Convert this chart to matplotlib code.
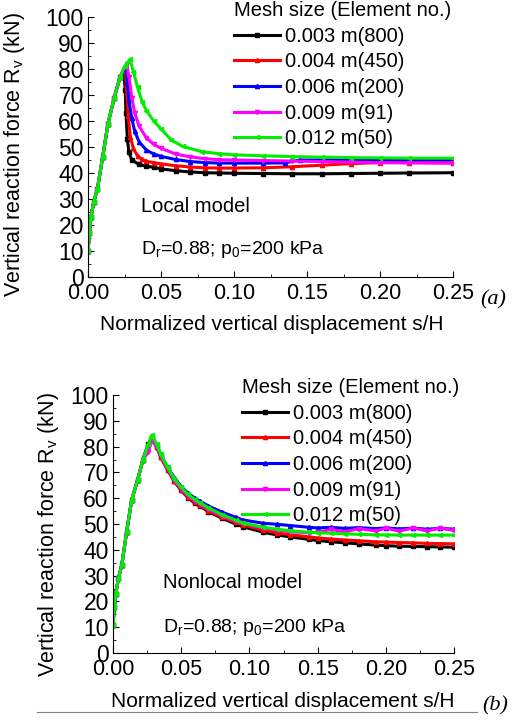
import matplotlib.pyplot as plt
from matplotlib.ticker import MultipleLocator, FormatStrFormatter

plt.rcParams['font.family'] = ['Liberation Sans', 'DejaVu Sans']

labels = ['0.003 m(800)', '0.004 m(450)', '0.006 m(200)', '0.009 m(91)', '0.012 m(50)']
colors = ['black', 'red', 'blue', 'magenta', '#00ee00']
markers = ['s', '^', '^', 'v', '<']

# (a) local model
rise_x = [0, 0.001, 0.002, 0.004, 0.0065, 0.010, 0.0137, 0.018, 0.022]
rise_y = [10, 17, 23, 29, 34, 46, 59, 69, 77]

loc_black_x = rise_x + [0.0245, 0.0255, 0.026, 0.027, 0.028, 0.030, 0.035, 0.040, 0.045, 0.05, 0.06, 0.07,
                        0.08, 0.09, 0.10, 0.12, 0.14, 0.16, 0.18, 0.20, 0.22, 0.25]
loc_black_y = rise_y + [79, 72, 63, 53, 48, 45, 43.3, 42.6, 42.2, 41.6, 40.9, 40.4,
                        40.1, 40, 39.9, 39.8, 39.7, 39.7, 39.8, 39.9, 40, 40.1]

loc_red_x = rise_x + [0.0255, 0.0265, 0.0275, 0.029, 0.031, 0.034, 0.037, 0.040, 0.045, 0.05, 0.06, 0.07,
                      0.08, 0.09, 0.10, 0.12, 0.14, 0.16, 0.18, 0.20, 0.22, 0.25]
loc_red_y = rise_y + [80.5, 71, 62, 54, 49.5, 46.5, 45.2, 44.5, 44, 43.5, 42.8, 42.3,
                      42, 41.9, 41.9, 42.0, 42.4, 43.0, 43.6, 44, 44, 43.9]

loc_blue_x = rise_x + [0.026, 0.027, 0.028, 0.030, 0.032, 0.035, 0.040, 0.045, 0.05, 0.06, 0.07,
                       0.08, 0.09, 0.10, 0.12, 0.135, 0.145, 0.16, 0.18, 0.20, 0.22, 0.25]
loc_blue_y = rise_y + [81, 75, 68, 61, 56, 52, 48.8, 47.3, 46.4, 45.2, 44.4,
                       44, 43.8, 43.8, 43.8, 43.9, 45, 45, 45, 45, 45, 45]

loc_mag_x = rise_x + [0.0265, 0.028, 0.030, 0.032, 0.035, 0.040, 0.045, 0.05, 0.06, 0.07, 0.08,
                      0.09, 0.10, 0.12, 0.14, 0.16, 0.18, 0.20, 0.22, 0.25]
loc_mag_y = rise_y + [82, 77, 69, 63, 58, 53.5, 51, 49.5, 47.3, 46.2, 45.5,
                      45.1, 45, 44.8, 44.6, 44.4, 44.2, 44, 43.9, 43.8]

loc_green_x = rise_x + [0.025, 0.0288, 0.031, 0.034, 0.037, 0.040, 0.045, 0.05, 0.057, 0.065, 0.078,
                        0.09, 0.10, 0.12, 0.14, 0.16, 0.18, 0.20, 0.22, 0.25]
loc_green_y = rise_y + [81, 83.7, 79, 73, 67.5, 64, 60, 57, 52.7, 50.2, 48.2,
                        47.4, 47, 46.6, 46.3, 46.1, 45.9, 45.8, 45.7, 45.7]

# (b) nonlocal model
nl_rise_x = [0, 0.001, 0.002, 0.004, 0.0064, 0.010, 0.0137, 0.018, 0.022, 0.026]
nl_rise_y = [11, 18, 23, 29, 34, 47, 59.3, 67, 75, 81]
nl_x = nl_rise_x + [0.0284, 0.032, 0.035, 0.040, 0.045, 0.05, 0.055, 0.06, 0.064, 0.07, 0.08, 0.09,
                    0.095, 0.11, 0.12, 0.13, 0.144, 0.15, 0.16, 0.17, 0.18, 0.193, 0.20, 0.21,
                    0.22, 0.23, 0.24, 0.25]
nl_black_y = nl_rise_y + [83.5, 80, 76, 71, 66.5, 63, 60.2, 58, 56.8, 54.8, 52.2, 50,
                          49, 46.8, 45.8, 45, 44, 43.6, 43.1, 42.7, 42.3, 41.8, 41.6, 41.4,
                          41.3, 41.2, 41.1, 41]
nl_red_y = nl_rise_y + [83.3, 79.8, 76, 71, 66.5, 63.2, 60.5, 58.5, 57.2, 55.2, 52.6, 50.6,
                        49.7, 47.6, 46.6, 45.8, 45, 44.6, 44.2, 43.8, 43.5, 43.1, 43, 42.8,
                        42.7, 42.5, 42.4, 42.3]
nl_blue_y = nl_rise_y + [83.8, 80.5, 77, 72, 68, 64.5, 62, 60, 58.8, 57, 54.6, 52.6,
                         51.6, 50.3, 49.9, 49.4, 48.7, 48.5, 48.7, 48.3, 48.6, 48.2, 48.5, 48.1,
                         48.4, 48, 48.3, 48]
nl_mag_y = nl_rise_y[:-1] + [78, 82.5, 79.8, 76.5, 71.5, 67, 63.5, 61, 59, 57.8, 55.8, 53.2, 51.2,
                             50.2, 48.5, 47.6, 47, 46.6, 46.8, 47.9, 46.9, 48.2, 47.3, 48.4, 47.2,
                             48.5, 47.3, 48.4, 47.5]
nl_green_y = nl_rise_y + [84.5, 81, 77, 72, 67.5, 64.2, 61.5, 59.5, 58.2, 56.3, 53.6, 51.5,
                          50.4, 48.8, 48, 47.4, 46.8, 46.6, 46.4, 46.2, 46, 45.8, 45.8, 45.7,
                          45.7, 45.7, 45.7, 45.7]

local_series = [(loc_black_x, loc_black_y), (loc_red_x, loc_red_y), (loc_blue_x, loc_blue_y),
                (loc_mag_x, loc_mag_y), (loc_green_x, loc_green_y)]
nonlocal_series = [(nl_x, nl_black_y), (nl_x, nl_red_y), (nl_x, nl_blue_y),
                   (nl_x, nl_mag_y), (nl_x, nl_green_y)]

fig = plt.figure(figsize=(5.14, 7.22), dpi=100)
W, H = 514, 722


def fx(px):
    return px / W


def fy(py):
    return 1 - py / H


def make_axes(left, top, right, bottom):
    return fig.add_axes([fx(left), fy(bottom), (right - left) / W, (bottom - top) / H])


def style(ax, series, model, leg_pos, xlab_pos, ylab_pos, txt_x, txt_y1, txt_y2):
    for (x, y), c, m, lab in zip(series, colors, markers, labels):
        ax.plot(x, y, color=c, lw=2.2, marker=m, ms=3, label=lab)
    ax.set_xlim(0, 0.25)
    ax.set_ylim(0, 100)
    ax.xaxis.set_major_locator(MultipleLocator(0.05))
    ax.xaxis.set_minor_locator(MultipleLocator(0.025))
    ax.xaxis.set_major_formatter(FormatStrFormatter('%.2f'))
    ax.yaxis.set_major_locator(MultipleLocator(10))
    ax.yaxis.set_minor_locator(MultipleLocator(5))
    ax.spines['top'].set_visible(False)
    ax.spines['right'].set_visible(False)
    ax.tick_params(which='both', direction='in')
    ax.tick_params(axis='x', labelsize=15.5, pad=4)
    ax.tick_params(axis='y', labelsize=16.5, pad=3)
    ax.tick_params(which='major', length=4)
    ax.tick_params(which='minor', length=2.5)
    ax.set_xlabel('Normalized vertical displacement s/H', fontsize=15)
    ax.xaxis.set_label_coords(fx(xlab_pos[0]), fy(xlab_pos[1]), transform=fig.transFigure)
    ax.set_ylabel('Vertical reaction force R$_\\mathregular{v}$ (kN)', fontsize=15.5)
    ax.yaxis.set_label_coords(fx(ylab_pos[0]), fy(ylab_pos[1]), transform=fig.transFigure)
    leg = ax.legend(loc='upper left', bbox_to_anchor=(fx(leg_pos[0]), fy(leg_pos[1])),
                    bbox_transform=fig.transFigure, frameon=False,
                    title='Mesh size (Element no.)', fontsize=14.5, title_fontsize=14.5,
                    handlelength=2.3, handletextpad=0.25, labelspacing=0.33,
                    borderaxespad=0, borderpad=0)
    leg._legend_box.align = 'left'
    ax.text(txt_x, txt_y1, model, fontsize=14.5)
    ax.text(txt_x, txt_y2, 'D$_\\mathregular{r}$=0.88; p$_\\mathregular{0}$=200 kPa', fontsize=14)


ax1 = make_axes(88, 17, 453, 277)
style(ax1, local_series, 'Local model', (234, 1), (272, 315), (27, 155), 0.036, 25, 9)
fig.text(fx(493), fy(300), '(a)', fontsize=16, style='italic', family='Liberation Serif',
         ha='center', va='center')

ax2 = make_axes(113, 395, 454, 653)
style(ax2, nonlocal_series, 'Nonlocal model', (242, 378), (283, 692), (61, 535), 0.037, 25, 8)
fig.text(fx(495), fy(706), '(b)', fontsize=16, style='italic', family='Liberation Serif',
         ha='center', va='center')
fig.add_artist(plt.Line2D([fx(37), fx(477)], [fy(712), fy(712)], color='gray', lw=0.8))

fig.savefig('out.png', dpi=100)
